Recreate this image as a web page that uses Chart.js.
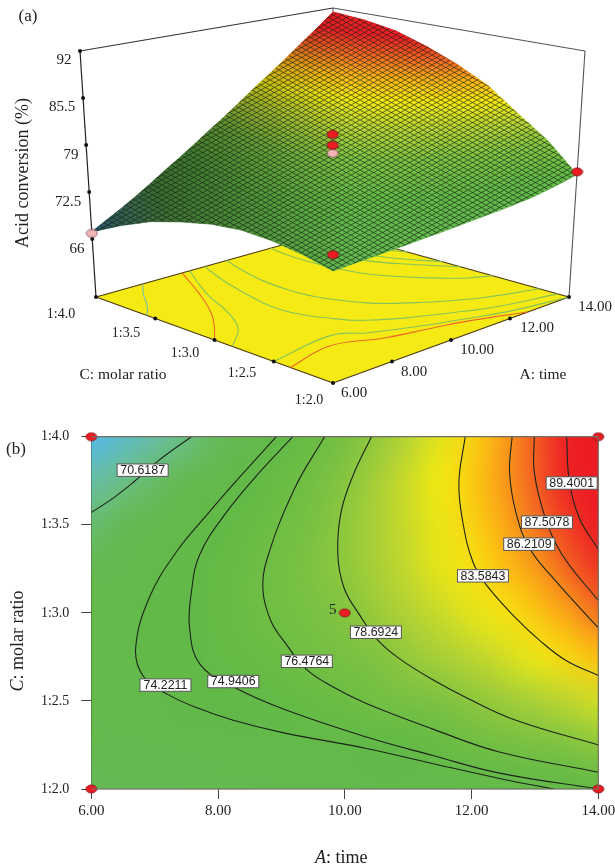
<!DOCTYPE html>
<html>
<head>
<meta charset="utf-8">
<title>Acid conversion</title>
<script src="https://cdn.jsdelivr.net/npm/chart.js@4"></script>
<style>
    html, body { margin: 0; padding: 0; background: #fff; }
    canvas { position: absolute; left: 0; display: block; }
    #chart-surface { top: 0; }
    #chart-contour { top: 410px; }
</style>
</head>
<body>
<canvas id="chart-surface" width="615" height="410"></canvas>
<canvas id="chart-contour" width="615" height="456"></canvas>
<script>
"use strict";

const timeValues = [6, 6.5, 7, 7.5, 8, 8.5, 9, 9.5, 10, 10.5, 11, 11.5, 12, 12.5, 13, 13.5, 14];
const ratioValues = [4, 3.75, 3.5, 3.25, 3, 2.75, 2.5, 2.25, 2];
const timeTicks = [8, 10, 12];
const ratioTicks = [3.5, 3, 2.5];
const conversionTicks = [66, 72.5, 79, 85.5, 92];

// one row per molar ratio (b)
const row40 = [67.0, 68.1, 69.2, 70.4, 71.7, 73.1, 74.45, 75.9, 77.45, 78.95, 80.6, 82.3, 83.95, 85.7, 87.55, 89.4, 91.4];
const row375 = [69.2, 70.25, 71.35, 72.5, 73.55, 74.85, 75.9, 77.0, 78.4, 79.9, 81.4, 82.9, 84.25, 85.85, 87.45, 89.25, 91.0];
const row35 = [71.0, 71.9, 72.75, 73.75, 74.9, 75.65, 76.55, 77.7, 78.85, 80.05, 81.35, 82.6, 83.95, 85.4, 86.85, 88.45, 90.2];
const row325 = [72.2, 73.0, 73.9, 74.65, 75.4, 76.1, 76.95, 78.1, 78.85, 79.95, 81.15, 82.4, 83.35, 84.65, 85.75, 87.2, 88.7];
const row30 = [73.1, 73.75, 74.35, 74.85, 75.5, 76.1, 76.85, 77.55, 78.3, 79.35, 80.35, 81.3, 82.3, 83.25, 84.4, 85.6, 86.9];
const row275 = [73.5, 74.05, 74.45, 74.8, 75.25, 75.75, 76.2, 76.95, 77.55, 78.15, 79.05, 79.9, 80.7, 81.6, 82.65, 83.75, 84.7];
const row25 = [73.3, 73.6, 73.95, 74.3, 74.55, 74.85, 75.2, 75.7, 76.15, 76.85, 77.45, 78.0, 78.65, 79.35, 80.0, 80.8, 81.6];
const row225 = [72.7, 72.85, 73.05, 73.25, 73.4, 73.6, 73.8, 74.0, 74.2, 74.65, 75.15, 75.75, 76.35, 76.95, 77.55, 78.1, 78.7];
const row20 = [71.8, 71.9, 72.0, 72.1, 72.2, 72.3, 72.45, 72.55, 72.7, 72.85, 73.0, 73.15, 73.35, 73.55, 73.95, 74.4, 74.95];
const conversion = [row40, row375, row35, row325, row30, row275, row25, row225, row20];

// contour lines of panel (b), [time, ratio]
const line706 = [[7.58, 4], [7.08, 3.87], [6.66, 3.74], [6.34, 3.65], [6, 3.57]];
const line742 = [[8.92, 4], [8.34, 3.77], [7.82, 3.555], [7.35, 3.35], [6.92, 3.09], [6.7, 2.8], [6.82, 2.64], [7.19, 2.54], [7.71, 2.455], [8.24, 2.39], [9.02, 2.32], [10.34, 2.23], [11.38, 2.145], [12.44, 2.06], [13.3, 2]];
const line749 = [[9.18, 4], [8.66, 3.8], [8.13, 3.57], [7.71, 3.33], [7.58, 3.12], [7.55, 2.92], [7.71, 2.71], [8.24, 2.58], [9.02, 2.455], [10.34, 2.295], [11.39, 2.19], [12.44, 2.09], [14, 2]];
const line765 = [[9.68, 4], [9.2, 3.7], [8.76, 3.29], [8.71, 3.12], [8.84, 2.95], [9.08, 2.82], [9.39, 2.68], [9.81, 2.58], [10.34, 2.485], [11.39, 2.34], [12.44, 2.21], [14, 2.095]];
const line787 = [[10.42, 4], [10.13, 3.78], [9.94, 3.57], [9.89, 3.33], [9.99, 3.14], [10.23, 2.99], [10.52, 2.845], [10.86, 2.74], [11.39, 2.62], [11.91, 2.52], [12.7, 2.39], [14, 2.25]];
const line836 = [[11.9, 4], [11.8, 3.74], [11.86, 3.52], [12.02, 3.29], [12.23, 3.16], [12.7, 2.97], [13.07, 2.845], [13.49, 2.73], [14, 2.645]];
const line862 = [[12.64, 4], [12.6, 3.8], [12.7, 3.57], [12.91, 3.37], [13.33, 3.18], [14, 2.915]];
const line875 = [[12.99, 4], [12.99, 3.8], [13.15, 3.555], [13.43, 3.33], [14, 3.07]];
const line894 = [[13.5, 4], [13.54, 3.76], [13.7, 3.54], [14, 3.36]];
const contourLines = [line706, line742, line749, line765, line787, line836, line862, line875, line894];

const contourNames = ["70.6187", "74.2211", "74.9406", "76.4764", "78.6924", "83.5843", "86.2109", "87.5078", "89.4001"];
const contourNameTime = [6.81, 7.17, 8.24, 9.4, 10.49, 12.18, 12.91, 13.19, 13.58];
const contourNameRatio = [3.81, 2.59, 2.61, 2.725, 2.89, 3.21, 3.39, 3.515, 3.737];

// floor contours of panel (a) that differ from panel (b) near the 6.00 edge
const floor742a = [[8.92, 4], [8.1, 3.65], [7.3, 3.35], [6.6, 3.15], [6, 3]];
const floor742b = [[6, 2.36], [7.71, 2.455], [9.02, 2.32], [10.34, 2.23], [11.38, 2.145], [12.6, 2]];
const floor749a = [[9.18, 4], [8.66, 3.8], [8.13, 3.57], [7.71, 3.33], [7, 3.05], [6, 2.85]];
const floor749b = [[6, 2.5], [8.24, 2.58], [9.02, 2.455], [10.34, 2.295], [11.39, 2.19], [12.44, 2.09], [14, 2]];

// design points: time, ratio, measured conversion
const pointTime = [6, 14, 10, 10, 10, 6];
const pointRatio = [4, 2, 3, 3, 3, 2];
const pointValue = [66.8, 75.3, 78.4, 79.5, 81, 73.8];
const pointPale = [true, false, true, false, false, false];
const planTime = [6, 14, 6, 14, 10];
const planRatio = [4, 4, 2, 2, 3];

const FLOOR_VALUE = 58, ROOF_VALUE = 92;
const SERIF = "'Liberation Serif', 'Times New Roman', serif";
const SANS = "'Liberation Sans', Arial, sans-serif";

// cage corners on the page: front, right, back, left
const FLOOR = [[333, 383], [569, 297], [332, 231], [96, 297]];
const ROOF = [[333, 107], [585, 51], [333, 8], [80, 51]];

function corner(c, u, t, k) {
    return c[0][k] * (1 - u) * (1 - t) + c[1][k] * u * (1 - t) + c[2][k] * u * t + c[3][k] * (1 - u) * t;
}
function project(time, ratio, value) {
    const u = (time - 6) / 8, t = (ratio - 2) / 2, z = (value - FLOOR_VALUE) / (ROOF_VALUE - FLOOR_VALUE);
    return {
        x: corner(FLOOR, u, t, 0) + (corner(ROOF, u, t, 0) - corner(FLOOR, u, t, 0)) * z,
        y: corner(FLOOR, u, t, 1) + (corner(ROOF, u, t, 1) - corner(FLOOR, u, t, 1)) * z,
    };
}

const COLOR_AT = [67, 70, 72, 75, 78, 80.5, 83, 85, 87, 89.5];
const COLOR_RGB = [[85, 185, 230], [109, 191, 142], [100, 185, 80], [98, 185, 70], [124, 194, 66], [181, 211, 52], [244, 233, 17], [253, 185, 19], [243, 111, 33], [237, 28, 36]];
function colorOf(v) {
    if (v <= COLOR_AT[0]) return COLOR_RGB[0];
    for (let i = 1; i < COLOR_AT.length; i++) {
        if (v <= COLOR_AT[i]) {
            const f = (v - COLOR_AT[i - 1]) / (COLOR_AT[i] - COLOR_AT[i - 1]);
            return COLOR_RGB[i].map((c, k) => COLOR_RGB[i - 1][k] + (c - COLOR_RGB[i - 1][k]) * f);
        }
    }
    return COLOR_RGB[COLOR_RGB.length - 1];
}
function css(rgb, shade) {
    return `rgb(${rgb.map((c) => Math.round(c * shade)).join(",")})`;
}

function ellipsePoint(fill, stroke, w, h) {
    const c = document.createElement("canvas");
    c.width = w + 2; c.height = h + 2;
    const g = c.getContext("2d");
    g.beginPath();
    g.ellipse((w + 2) / 2, (h + 2) / 2, w / 2, h / 2, 0, 0, Math.PI * 2);
    g.fillStyle = fill; g.fill();
    g.strokeStyle = stroke; g.lineWidth = 0.8; g.stroke();
    return c;
}
const RED_POINT = ellipsePoint("#ed1c24", "#7a1014", 11, 8);
const PALE_POINT = ellipsePoint("#f3b6b8", "#7a4a4c", 11, 8);

function meshTile() {
    const c = document.createElement("canvas");
    c.width = 9; c.height = 5;
    const g = c.getContext("2d");
    g.strokeStyle = "rgba(18,32,14,0.62)";
    g.lineWidth = 1;
    [[0, 0, 9, 5], [0, 5, 9, 0], [-9, 0, 0, 5], [9, 0, 18, 5]].forEach((l) => {
        g.beginPath(); g.moveTo(l[0], l[1]); g.lineTo(l[2], l[3]); g.stroke();
    });
    return c;
}

function text(ctx, str, x, y, size, opts) {
    const o = opts || {};
    ctx.save();
    ctx.translate(x, y);
    if (o.rotate) ctx.rotate(-Math.PI / 2);
    ctx.font = `${o.italic ? "italic " : ""}${size}px ${o.family || SERIF}`;
    ctx.fillStyle = o.color || "#222";
    ctx.textAlign = o.align || "center";
    ctx.textBaseline = "middle";
    ctx.fillText(str, 0, 0);
    ctx.restore();
}

const floorPlugin = {
    id: "floorPlugin",
    beforeDatasetsDraw(chart) {
        const { ctx, scales } = chart;
        const edge = [[6, 2], [14, 2], [14, 4], [6, 4]].map((p) => project(p[0], p[1], FLOOR_VALUE));
        ctx.beginPath();
        edge.forEach((p, i) => {
            const px = scales.x.getPixelForValue(p.x), py = scales.y.getPixelForValue(p.y);
            if (i) ctx.lineTo(px, py); else ctx.moveTo(px, py);
        });
        ctx.closePath();
        ctx.fillStyle = "#f6ea14";
        ctx.fill();
    },
};

const SHADE_STEPS = 5;
const surfacePlugin = {
    id: "surfacePlugin",
    beforeDatasetDraw(chart, args) {
        if (chart.data.datasets[args.index].label !== "surface") return;
        const { ctx, scales } = chart;
        const at = (i, j) => {
            const p = project(timeValues[i], ratioValues[j], conversion[j][i]);
            return { x: scales.x.getPixelForValue(p.x), y: scales.y.getPixelForValue(p.y), v: conversion[j][i] };
        };
        // shading inside a table cell, same job as the smoothing of the map in panel (b)
        const blend = (q, s, t) => {
            const f = (k) => q[0][k] * (1 - s) * (1 - t) + q[1][k] * s * (1 - t) + q[2][k] * s * t + q[3][k] * (1 - s) * t;
            return { x: f("x"), y: f("y"), v: f("v") };
        };
        ctx.save();
        ctx.lineWidth = 0.8;
        for (let i = timeValues.length - 2; i >= 0; i--) {
            for (let j = 0; j < ratioValues.length - 1; j++) {
                const q = [at(i, j), at(i + 1, j), at(i + 1, j + 1), at(i, j + 1)];
                for (let a = SHADE_STEPS - 1; a >= 0; a--) {
                    for (let b = 0; b < SHADE_STEPS; b++) {
                        const s0 = a / SHADE_STEPS, s1 = (a + 1) / SHADE_STEPS, t0 = b / SHADE_STEPS, t1 = (b + 1) / SHADE_STEPS;
                        const p = [blend(q, s0, t0), blend(q, s1, t0), blend(q, s1, t1), blend(q, s0, t1)];
                        const mid = blend(q, (s0 + s1) / 2, (t0 + t1) / 2);
                        // the sheet reads darker towards its left tip, where the wires bunch up
                        const shade = Math.min(1, 0.42 + 0.58 * Math.max(0, (mid.x - 90) / 260));
                        ctx.fillStyle = ctx.strokeStyle = css(colorOf(mid.v), shade);
                        ctx.beginPath();
                        p.forEach((c, k) => (k ? ctx.lineTo(c.x, c.y) : ctx.moveTo(c.x, c.y)));
                        ctx.closePath();
                        ctx.fill();
                        ctx.stroke();
                    }
                }
            }
        }
        // outline of the sheet, the wire texture is only painted inside it
        const last = timeValues.length - 1, lastRow = ratioValues.length - 1;
        ctx.beginPath();
        const first = at(0, 0);
        ctx.moveTo(first.x, first.y);
        for (let i = 1; i <= last; i++) { const p = at(i, 0); ctx.lineTo(p.x, p.y); }
        for (let j = 1; j <= lastRow; j++) { const p = at(last, j); ctx.lineTo(p.x, p.y); }
        for (let i = last - 1; i >= 0; i--) { const p = at(i, lastRow); ctx.lineTo(p.x, p.y); }
        for (let j = lastRow - 1; j > 0; j--) { const p = at(0, j); ctx.lineTo(p.x, p.y); }
        ctx.closePath();
        ctx.fillStyle = ctx.createPattern(meshTile(), "repeat");
        ctx.fill();
        ctx.restore();
    },
};

const surfaceLabels = {
    id: "surfaceLabels",
    afterDraw(chart) {
        const ctx = chart.ctx;
        text(ctx, "(a)", 28, 17, 17);
        text(ctx, "Acid conversion (%)", 23, 173, 18, { rotate: true });
        text(ctx, "92", 64, 60, 15);
        text(ctx, "85.5", 62, 107, 15);
        text(ctx, "79", 71, 155, 15);
        text(ctx, "72.5", 68, 202, 15);
        text(ctx, "66", 77, 249, 15);
        text(ctx, "1:4.0", 61, 314, 14);
        text(ctx, "1:3.5", 126, 333, 14);
        text(ctx, "1:3.0", 185, 353, 14);
        text(ctx, "1:2.5", 242, 373, 14);
        text(ctx, "1:2.0", 309, 400, 14);
        text(ctx, "C: molar ratio", 123, 375, 15.5);
        text(ctx, "6.00", 354, 393, 15);
        text(ctx, "8.00", 414, 372, 15);
        text(ctx, "10.00", 477, 350, 15);
        text(ctx, "12.00", 537, 328, 15);
        text(ctx, "14.00", 595, 307, 15);
        text(ctx, "A: time", 543, 375, 15.5);
    },
};

function cageLine(a, b, color, width) {
    return { type: "scatter", label: "cage", showLine: true, data: [a, b], borderColor: color, borderWidth: width, pointRadius: 0, order: 5 };
}
function floorLine(points, color) {
    return { type: "scatter", label: "floor contour", showLine: true, tension: 0.4, data: points.map((p) => project(p[0], p[1], FLOOR_VALUE)), borderColor: color, borderWidth: 1.1, pointRadius: 0, order: 4 };
}

const TEAL = "#6fbfa0", GREEN = "#84c35c", ORANGE = "#e9682c";
const topAt = (t, r) => project(t, r, ROOF_VALUE);
const lowAt = (t, r) => project(t, r, FLOOR_VALUE);

new Chart(document.getElementById("chart-surface"), {
    type: "scatter",
    data: {
        datasets: [
            cageLine(lowAt(6, 4), topAt(6, 4), "#222", 1.2),
            cageLine(topAt(6, 4), topAt(14, 4), "#333", 1.1),
            cageLine(topAt(14, 4), topAt(14, 2), "#555", 1.1),
            cageLine(topAt(14, 2), lowAt(14, 2), "#555", 1.1),
            cageLine(lowAt(14, 4), topAt(14, 4), "#555", 1),
            cageLine(lowAt(6, 4), lowAt(6, 2), "#4a3a10", 1.2),
            cageLine(lowAt(6, 2), lowAt(14, 2), "#4a3a10", 1.2),
            cageLine(lowAt(14, 2), lowAt(14, 4), "#4a3a10", 1.2),
            cageLine(lowAt(14, 4), lowAt(6, 4), "#4a3a10", 1.2),
            floorLine(line706, TEAL),
            floorLine(floor742a, ORANGE),
            floorLine(floor742b, ORANGE),
            floorLine(floor749a, GREEN),
            floorLine(floor749b, GREEN),
            floorLine(line765, GREEN),
            floorLine(line787, GREEN),
            floorLine(line836, GREEN),
            floorLine(line862, GREEN),
            floorLine(line875, GREEN),
            floorLine(line894, GREEN),
            { type: "scatter", label: "surface", data: [], order: 3 },
            {
                type: "scatter", label: "ticks", order: 2, pointRadius: 2, pointBackgroundColor: "#111", pointBorderWidth: 0,
                data: [
                    ...conversionTicks.map((v) => project(6, 4, v)),
                    ...ratioTicks.map((r) => lowAt(6, r)),
                    ...timeTicks.map((t) => lowAt(t, 2)),
                    lowAt(6, 4), lowAt(6, 2), lowAt(14, 2),
                ],
            },
            {
                type: "scatter", label: "design points", order: 1, clip: false,
                data: pointTime.map((t, i) => project(t, pointRatio[i], pointValue[i])),
                pointStyle: pointPale.map((p) => (p ? PALE_POINT : RED_POINT)),
            },
        ],
    },
    options: {
        responsive: false,
        animation: false,
        layout: { padding: 0, autoPadding: false },
        plugins: { legend: { display: false }, tooltip: { enabled: false } },
        scales: {
            x: { type: "linear", display: false, min: 0, max: 615 },
            y: { type: "linear", display: false, min: 0, max: 410, reverse: true },
        },
    },
    plugins: [floorPlugin, surfacePlugin, surfaceLabels],
});

const heatPlugin = {
    id: "heatPlugin",
    beforeDatasetsDraw(chart) {
        const { ctx, scales, chartArea } = chart;
        const cols = timeValues.length, rows = ratioValues.length;
        const off = document.createElement("canvas");
        off.width = cols; off.height = rows;
        const g = off.getContext("2d");
        const img = g.createImageData(cols, rows);
        conversion.forEach((row, j) => row.forEach((v, i) => {
            const rgb = colorOf(v), o = (j * cols + i) * 4;
            img.data[o] = rgb[0]; img.data[o + 1] = rgb[1]; img.data[o + 2] = rgb[2]; img.data[o + 3] = 255;
        }));
        g.putImageData(img, 0, 0);
        const cw = scales.x.getPixelForValue(6.5) - scales.x.getPixelForValue(6);
        const ch = scales.y.getPixelForValue(3.75) - scales.y.getPixelForValue(4);
        ctx.save();
        ctx.beginPath();
        ctx.rect(chartArea.left, chartArea.top, chartArea.width, chartArea.height);
        ctx.clip();
        ctx.imageSmoothingEnabled = true;
        ctx.imageSmoothingQuality = "high";
        ctx.drawImage(off, chartArea.left - cw / 2, chartArea.top - ch / 2, chartArea.width + cw, chartArea.height + ch);
        ctx.restore();
    },
    afterDatasetsDraw(chart) {
        const { ctx, scales, chartArea } = chart;
        ctx.save();
        ctx.strokeStyle = "#6f6f62";
        ctx.lineWidth = 1.2;
        ctx.beginPath();
        ctx.moveTo(chartArea.left, chartArea.top); ctx.lineTo(chartArea.right, chartArea.top);
        ctx.moveTo(chartArea.left, chartArea.bottom); ctx.lineTo(chartArea.right, chartArea.bottom);
        ctx.moveTo(chartArea.right, chartArea.top); ctx.lineTo(chartArea.right, chartArea.bottom);
        ctx.stroke();
        contourNames.forEach((name, i) => {
            const x = scales.x.getPixelForValue(contourNameTime[i]), y = scales.y.getPixelForValue(contourNameRatio[i]);
            ctx.fillStyle = "#fff";
            ctx.strokeStyle = "#555";
            ctx.lineWidth = 1;
            ctx.fillRect(x - 25.5, y - 6.2, 51, 12.4);
            ctx.strokeRect(x - 25.5, y - 6.2, 51, 12.4);
            text(ctx, name, x, y + 0.5, 12.4, { family: SANS, color: "#222" });
        });
        ctx.restore();
    },
    afterDraw(chart) {
        const { ctx, scales } = chart;
        text(ctx, "(b)", 16, 40, 17);
        text(ctx, "5", scales.x.getPixelForValue(10) - 12, scales.y.getPixelForValue(3) - 3, 15);
        ctx.save();
        ctx.font = `18px ${SERIF}`;
        const restY = ctx.measureText(": molar ratio").width;
        ctx.font = `italic 18px ${SERIF}`;
        const capY = ctx.measureText("C").width;
        ctx.restore();
        const startY = 231 + (restY + capY) / 2;
        text(ctx, "C", 18, startY, 18, { rotate: true, italic: true, align: "left" });
        text(ctx, ": molar ratio", 18, startY - capY, 18, { rotate: true, align: "left" });
        text(ctx, "A", 315, 448, 18, { italic: true, align: "left" });
        text(ctx, ": time", 326, 448, 18, { align: "left" });
    },
};

new Chart(document.getElementById("chart-contour"), {
    type: "scatter",
    data: {
        datasets: [
            {
                label: "design points", order: 1, clip: false, pointStyle: RED_POINT,
                data: planTime.map((t, i) => ({ x: t, y: planRatio[i] })),
            },
            ...contourLines.map((line, i) => ({
                label: contourNames[i], order: 2, showLine: true, tension: 0.4, pointRadius: 0,
                borderColor: "#1c241a", borderWidth: 1.1,
                data: line.map((p) => ({ x: p[0], y: p[1] })),
            })),
        ],
    },
    options: {
        responsive: false,
        animation: false,
        layout: { padding: { left: 0, right: 16.7, top: 26.7, bottom: 0 }, autoPadding: false },
        plugins: { legend: { display: false }, tooltip: { enabled: false } },
        scales: {
            x: {
                type: "linear", min: 6, max: 14,
                afterFit: (s) => { s.height = 77; s.paddingRight = 0; },
                ticks: { stepSize: 2, padding: 3, color: "#222", font: { family: SERIF, size: 15 }, callback: (v) => v.toFixed(2) },
                grid: { drawOnChartArea: false, tickLength: 10, color: "#444" },
                border: { color: "#6f6f62", width: 1.2 },
            },
            y: {
                type: "linear", min: 2, max: 4,
                afterFit: (s) => { s.width = 91.3; s.paddingTop = 0; },
                ticks: { stepSize: 0.5, padding: 12, color: "#222", font: { family: SERIF, size: 14 }, callback: (v) => "1:" + v.toFixed(1) },
                grid: { drawOnChartArea: false, tickLength: 10, color: "#444" },
                border: { color: "#222", width: 1.2 },
            },
        },
    },
    plugins: [heatPlugin],
});
</script>
</body>
</html>
